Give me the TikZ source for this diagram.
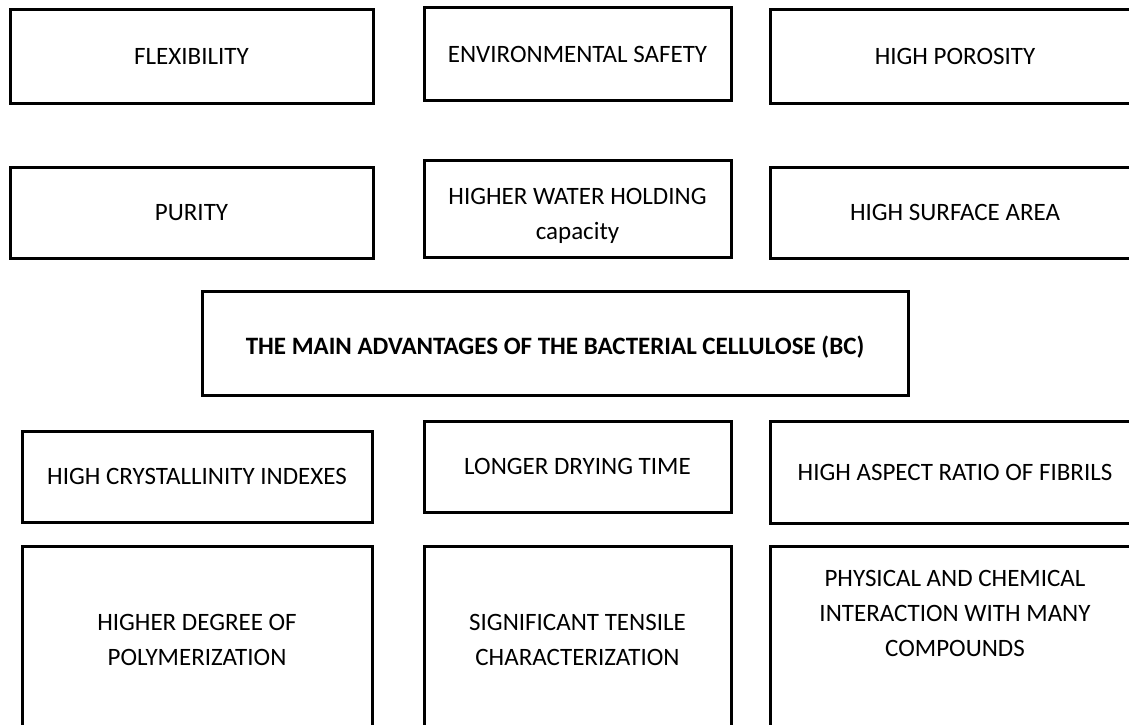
\documentclass[tikz,border=0pt]{standalone}
\usepackage{fontspec}
\setmainfont{Carlito}
\tikzset{
  advbox/.style={draw, line width=3pt, rectangle, inner sep=0pt, align=center,
    font=\fontsize{25}{35}\selectfont},
  advtext/.style={inner sep=0pt, align=center, font=\fontsize{25}{35}\selectfont},
  titlebox/.style={advbox, font=\fontsize{25}{35}\selectfont\bfseries}
}
\begin{document}
\begin{tikzpicture}[x=1pt, y=-1pt]
\useasboundingbox (0,0) rectangle (1129,725);
\clip (0,0) rectangle (1129,725);
\node[advbox, minimum width=363, minimum height=93] (flex) at (191.5,56.5){FLEXIBILITY};
\node[advbox, minimum width=307, minimum height=92] (envsafe) at (577.5,54){ENVIRONMENTAL SAFETY};
\node[advbox, minimum width=370, minimum height=93] (poros) at (955,56.5){HIGH POROSITY};

\node[advbox, minimum width=363, minimum height=91] (purity) at (191.5,212.5){PURITY};
\node[advbox, minimum width=307, minimum height=97] (water) at (577.5,208.5){};
\node[advtext] (watertxt) at (577.5,216){HIGHER WATER HOLDING\\capacity};
\node[advbox, minimum width=370, minimum height=91] (surf) at (955,212.5){HIGH SURFACE AREA};

\node[titlebox, minimum width=706, minimum height=104] (bc) at (555,343){};
\node[advtext, font=\fontsize{25}{35}\selectfont\bfseries] (bctxt) at (555,347){THE MAIN ADVANTAGES OF THE BACTERIAL CELLULOSE (BC)};

\node[advbox, minimum width=350, minimum height=91] (cryst) at (197,476.5){HIGH CRYSTALLINITY INDEXES};
\node[advbox, minimum width=307, minimum height=91] (dry) at (577.5,466.5){LONGER DRYING TIME};
\node[advbox, minimum width=370, minimum height=102] (aspect) at (955,472){HIGH ASPECT RATIO OF FIBRILS};

\node[advbox, minimum width=350, minimum height=188] (polym) at (197,640){HIGHER DEGREE OF\\POLYMERIZATION};
\node[advbox, minimum width=307, minimum height=188] (tensile) at (577.5,640){SIGNIFICANT TENSILE\\CHARACTERIZATION};
\node[advbox, minimum width=370, minimum height=188] (interact) at (955,640){};
\node[advtext] (interacttxt) at (955,613){PHYSICAL AND CHEMICAL\\INTERACTION WITH MANY\\COMPOUNDS};

\end{tikzpicture}
\end{document}
